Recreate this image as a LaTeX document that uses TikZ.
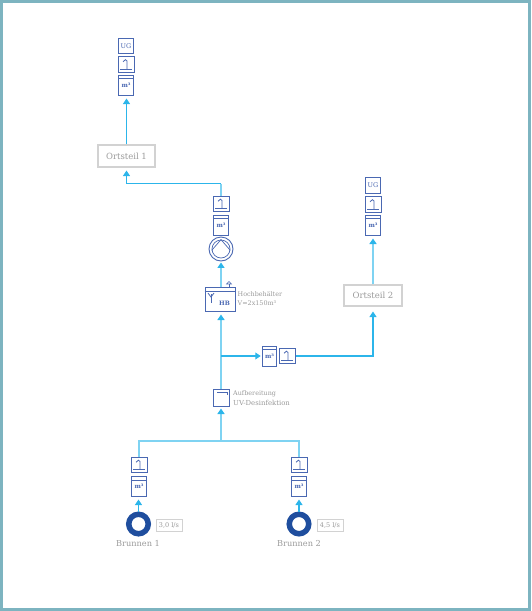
\documentclass[tikz,border=0pt]{standalone}
\usepackage{fontspec}
\setmainfont{DejaVu Serif}
\usetikzlibrary{arrows.meta}
\definecolor{frameteal}{HTML}{7DB4C0}
\definecolor{symblue}{HTML}{4A68B2}
\definecolor{ringblue}{HTML}{1F4E9E}
\definecolor{flowblue}{HTML}{2CB5EA}
\definecolor{flowlight}{HTML}{7FD3F2}
\definecolor{txtgray}{HTML}{9A9A9A}
\definecolor{boxgray}{HTML}{D2D2D2}
\tikzset{
  symbox/.style={draw=symblue,line width=1pt,inner sep=0pt,fill=white},
  tapbox/.style={symbox,minimum width=16pt,minimum height=15.5pt},
  meterbox/.style={symbox,minimum width=14.5pt,minimum height=20pt,font=\fontsize{6}{6}\selectfont\bfseries\color{symblue}},
  ugbox/.style={symbox,minimum width=14.5pt,minimum height=15.5pt,font=\fontsize{6.5}{6.5}\selectfont\color{symblue}},
  placebox/.style={draw=boxgray,line width=1.1pt,fill=white,inner sep=0pt,font=\fontsize{8.5}{8.5}\selectfont\color{txtgray}},
  ratebox/.style={draw=boxgray,line width=1pt,fill=white,inner sep=0pt,minimum width=26pt,minimum height=12pt,font=\fontsize{6.5}{6.5}\selectfont\color{txtgray}},
  note/.style={inner sep=0pt,anchor=west,font=\fontsize{6.4}{6.4}\selectfont\color{txtgray}},
  wellname/.style={inner sep=0pt,font=\fontsize{8.2}{8.2}\selectfont\color{txtgray}},
  well/.style={circle,draw=ringblue,line width=5.5pt,fill=white,minimum size=19.5pt,inner sep=0pt},
  flow/.style={draw=flowblue,line width=1.1pt,-{Triangle[length=5.5pt,width=7pt]}},
  flowpale/.style={draw=flowlight,line width=1.5pt,-{Triangle[length=5.5pt,width=7pt,color=flowblue]}},
  glyph/.style={draw=symblue,line width=0.8pt}
}
\newcommand{\tapsym}[1]{%
  \draw[glyph] ([xshift=-6pt,yshift=-4.5pt]#1.center) -- ([xshift=6pt,yshift=-4.5pt]#1.center);
  \draw[glyph] ([xshift=1pt,yshift=-4.5pt]#1.center) -- ([xshift=1pt,yshift=3.5pt]#1.center) -- ([xshift=-0.5pt,yshift=4.8pt]#1.center) -- ([xshift=-3pt,yshift=2.8pt]#1.center);}
\newcommand{\metersym}[1]{%
  \draw[symblue,line width=0.8pt] ([yshift=-4pt]#1.north west) -- ([yshift=-4pt]#1.north east);}
\newcommand{\mthree}{\raisebox{-2pt}{m³}}
\begin{document}
\begin{tikzpicture}[x=1pt,y=-1pt]
\useasboundingbox (0,0) rectangle (531,611);
\draw[frameteal,line width=2.6pt] (1.5,1.5) rectangle (529.5,609.5);

% Column Ortsteil 1
\node[ugbox] (ug1) at (126,46) {UG};
\node[tapbox] (tap1) at (126,64.5) {};
\node[meterbox] (m1) at (126,85) {\mthree};
\node[placebox,minimum width=57pt,minimum height=22pt] (ort1) at (126.5,156) {Ortsteil 1};
\tapsym{tap1}\metersym{m1}

% Column Ortsteil 2
\node[ugbox] (ug2) at (373,185.5) {UG};
\node[tapbox] (tap2) at (373,204.5) {};
\node[meterbox] (m2) at (373,225) {\mthree};
\node[placebox,minimum width=58pt,minimum height=21pt] (ort2) at (373,295.5) {Ortsteil 2};
\tapsym{tap2}\metersym{m2}

% Main column
\node[tapbox] (tap3) at (221,204) {};
\node[meterbox] (m3) at (221,225) {\mthree};
\node[circle,draw=symblue,line width=0.9pt,minimum size=24pt,inner sep=0pt,fill=white] (pump) at (221,249) {};
\node[circle,draw=symblue,line width=0.7pt,minimum size=18pt,inner sep=0pt] (pumpin) at (221,249) {};
\draw[glyph,line width=0.7pt] (pumpin.188) -- (pumpin.north) -- (pumpin.-8);
\tapsym{tap3}\metersym{m3}

\node[symbox,minimum width=30pt,minimum height=24pt] (hb) at (220,299) {};
\draw[glyph] (hb.north west)++(0,5) -- ++(30,0);
\draw[glyph] (211,294) -- (211,303);
\draw[glyph] (208,293) -- (211,297) -- (214,293);
\node[inner sep=0pt,font=\fontsize{6}{6}\selectfont\bfseries\color{symblue}] (hblabel) at (224.5,303) {HB};
\coordinate (hbvent) at (229,287);
\draw[glyph,line width=0.6pt] (hbvent) -- ++(0,-3);
\draw[glyph,line width=0.6pt] (226.5,284) -- (229,281.5) -- (231.5,284) -- cycle;
\node[note] (hbt1) at (237.5,294) {Hochbehälter};
\node[note] (hbt2) at (237.5,303) {V=2x150m³};

\node[symbox,minimum width=16pt,minimum height=17pt] (uv) at (221,397.5) {};
\draw[glyph] (217,392) -- (227,392) -- (227,395);
\node[note] (uvt1) at (233,394) {Aufbereitung};
\node[note,font=\fontsize{6.9}{6.9}\selectfont\color{txtgray}] (uvt2) at (233,403) {UV-Desinfektion};

\node[meterbox] (m4) at (269.5,356) {\mthree};
\node[tapbox] (tap4) at (287,356) {};
\tapsym{tap4}\metersym{m4}

% Wells
\node[tapbox] (tap5) at (139,465) {};
\node[meterbox] (m5) at (139,486.5) {\mthree};
\node[well] (w1) at (138.5,524) {};
\node[ratebox] (r1) at (169,525) {3,0 l/s};
\node[wellname] (n1) at (138,544) {Brunnen 1};
\tapsym{tap5}\metersym{m5}

\node[tapbox] (tap6) at (299,465) {};
\node[meterbox] (m6) at (299,486.5) {\mthree};
\node[well] (w2) at (299,524) {};
\node[ratebox] (r2) at (330,525) {4,5 l/s};
\node[wellname] (n2) at (299,544) {Brunnen 2};
\tapsym{tap6}\metersym{m6}

% Connectors
\coordinate (joinA) at (221,441);
\coordinate (joinB) at (221,356);
\draw[flowpale,-] (tap5.north) |- (joinA);
\draw[flowpale,-] (tap6.north) |- (joinA);
\draw[flowpale] (joinA) -- ([yshift=-2pt]uv.south);
\draw[flowpale] (uv.north) -- ([yshift=-3pt]hb.south-|uv.north);
\draw[flow] (joinB) -- ([xshift=-1pt]m4.west);
\draw[flow] (tap4.east) -| ([yshift=-5pt]ort2.south);
\draw[flowpale] (ort2.north) -- ([yshift=-3pt]m2.south);
\draw[flow] (ort1.north) -- ([yshift=-3pt]m1.south-|ort1.north);
\draw[flowpale] (hb.north-|pump) -- ([yshift=-1pt]pump.south);
\draw[flowpale,-] (tap3.north) -- ++(0,-12) coordinate (bendA);
\draw[flow] (bendA) -| ([yshift=-3pt]ort1.south);
\draw[flow] (w1.north) -- ([yshift=-2.5pt]m5.south-|w1.north);
\draw[flow] (w2.north) -- ([yshift=-2.5pt]m6.south);
\end{tikzpicture}
\end{document}
